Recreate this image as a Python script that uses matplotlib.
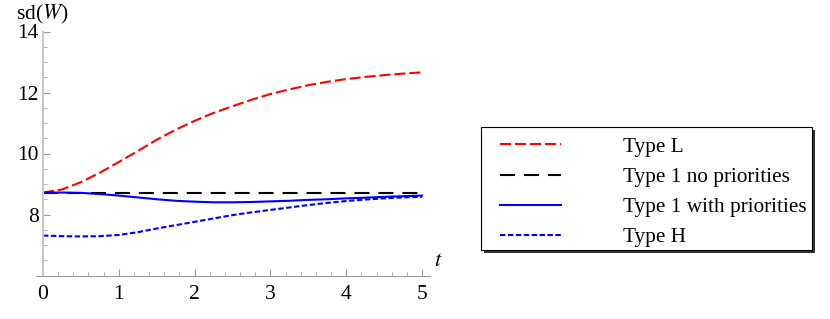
import matplotlib
matplotlib.use("Agg")
import matplotlib.pyplot as plt
from matplotlib.patches import Rectangle
import numpy as np

t = [0, 0.25, 0.5, 0.75, 1, 1.25, 1.5, 1.75, 2, 2.25, 2.5,
     2.75, 3, 3.25, 3.5, 3.75, 4, 4.25, 4.5, 4.75, 5]
type_L = [8.72, 8.82, 9.06, 9.37, 9.72, 10.08, 10.45, 10.78, 11.07, 11.33, 11.55,
          11.76, 11.95, 12.10, 12.24, 12.35, 12.44, 12.51, 12.57, 12.62, 12.66]
type1_noprio = [8.72] * len(t)
type1_prio = [8.72, 8.72, 8.71, 8.67, 8.62, 8.56, 8.50, 8.45, 8.42, 8.40, 8.40,
              8.41, 8.43, 8.45, 8.48, 8.50, 8.53, 8.55, 8.58, 8.60, 8.62]
type_H = [7.31, 7.29, 7.28, 7.29, 7.33, 7.42, 7.54, 7.65, 7.76, 7.87, 7.98,
          8.07, 8.15, 8.23, 8.31, 8.38, 8.44, 8.49, 8.53, 8.56, 8.58]
labels = ["Type L", "Type 1 no priorities", "Type 1 with priorities", "Type H"]

plt.rcParams['font.family'] = ['Liberation Serif', 'DejaVu Serif']
plt.rcParams['mathtext.fontset'] = 'stix'

W, H = 830, 319
fig = plt.figure(figsize=(W / 100, H / 100), dpi=100)
left_px, right_px = 36, 430
bottom_px, top_px = 275.5, 31.5
ax = fig.add_axes([left_px / W, 1 - bottom_px / H, (right_px - left_px) / W, (bottom_px - top_px) / H])

x0 = -7 / 75.8
x1 = x0 + (right_px - left_px) / 75.8
ax.set_xlim(x0, x1)
ax.set_ylim(6, 14)

lw = 1.5
ax.plot(t, type_L, color=(1, 0, 0), lw=lw, dashes=(5.3, 1.9), label=labels[0])
ax.plot(t, type1_noprio, color='black', lw=lw, dashes=(7.2, 4.3), label=labels[1])
ax.plot(t, type1_prio, color=(0, 0, 1), lw=lw, label=labels[2])
ax.plot(t, type_H, color=(0, 0, 1), lw=lw, dashes=(2.6, 1.2), label=labels[3])

for s in ['top', 'right']:
    ax.spines[s].set_visible(False)
ax.spines['left'].set_position(('data', 0))
ax.spines['left'].set_color('#c8c8c8')
ax.spines['left'].set_linewidth(1.6)
ax.spines['bottom'].set_color('#999999')
ax.spines['bottom'].set_linewidth(0.8)

ax.set_xticks([0, 1, 2, 3, 4, 5])
ax.set_xticks(np.arange(0, 5.01, 0.2), minor=True)
ax.set_yticks([8, 10, 12, 14])
ax.set_yticks(np.arange(6.5, 14.01, 0.5), minor=True)
ax.tick_params(axis='both', which='major', direction='in', length=5, width=0.8,
               color='#999999', labelsize=15.5, labelcolor='black')
ax.tick_params(axis='both', which='minor', direction='in', length=3, width=0.6,
               color='#aaaaaa')
ax.tick_params(axis='x', pad=7)
ax.tick_params(axis='y', pad=3)

fig.text(438 / W, 1 - 261 / H, r'$t$', fontsize=16, ha='center', va='center')
fig.text(16 / W, 1 - 14 / H, r'sd($W$)', fontsize=15.5, ha='left', va='center')

# legend frame with shadow (figure pixel layout)
bx0, bx1, by0, by1 = 481, 812, 127, 250
fig.patches.append(Rectangle(((bx0 + 3) / W, 1 - (by1 + 3) / H), (bx1 - bx0) / W, (by1 - by0) / H,
                             transform=fig.transFigure, facecolor='#333333', edgecolor='none', zorder=-2))
fig.patches.append(Rectangle((bx0 / W, 1 - by1 / H), (bx1 - bx0) / W, (by1 - by0) / H,
                             transform=fig.transFigure, facecolor='white', edgecolor='black',
                             linewidth=0.8, zorder=-1))

leg = ax.legend(loc='upper left', bbox_to_anchor=(500 / W, 1 - 137 / H),
                bbox_transform=fig.transFigure, borderaxespad=0,
                fontsize=15.3, frameon=False, handlelength=2.85, handletextpad=2.95,
                labelspacing=0.48, borderpad=0)

fig.savefig('out.png', dpi=100)
